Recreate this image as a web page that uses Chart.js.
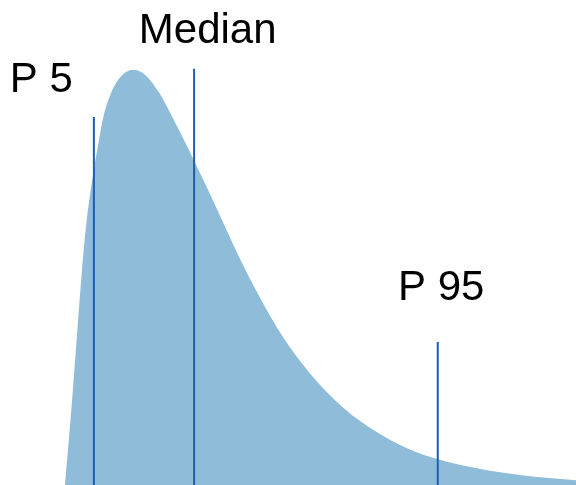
<!DOCTYPE html>
<html>

<head>
    <meta charset="utf-8">
    <title>Distribution</title>
    <script src="https://cdn.jsdelivr.net/npm/chart.js"></script>
</head>

<style>
    body {
        margin: 0;
        background-color: #ffffff;
    }

    .chart-container {
        position: relative;
        width: 576px;
        height: 485px;
    }
</style>

<body>
    <div class="chart-container">
        <canvas id="distChart"></canvas>
    </div>

    <script>
        // density curve (x along the axis, y = height)
        var curveX = [11.28, 12.45, 13.32, 14.18, 15.05, 16.20, 17.07, 17.93, 19.10, 20.83, 23.09, 25.17, 27.78, 29.51, 32.99, 36.46, 41.32, 45.14, 49.13, 53.82, 59.55, 65.97, 70.66, 76.04, 82.12, 88.02, 93.75, 100];
        var curveY = [0, 16.5, 30.2, 43.5, 54.6, 64.3, 70.3, 75.8, 80.3, 84.0, 85.6, 84.6, 80.6, 76.8, 68.6, 60.0, 47.5, 38.6, 30.5, 23.0, 16.0, 10.5, 7.6, 5.3, 3.6, 2.4, 1.6, 1.0];

        // percentile markers
        var markerNames = ['P 5', 'Median', 'P 95'];
        var markerX = [16.3, 33.7, 76.0];
        var markerTop = [75.9, 85.8, 29.5];

        // where each label sits (left edge, baseline)
        var labelX = [1.7, 24.1, 69.1];
        var labelY = [81.0, 91.1, 38.1];

        var fillColor = 'rgb(143, 188, 217)';
        var lineColor = '#1f5daf';

        var curvePoints = curveX.map(function (x, i) { return { x: x, y: curveY[i] }; });

        var datasets = [{
            data: curvePoints,
            backgroundColor: fillColor,
            borderWidth: 0,
            pointRadius: 0,
            fill: 'origin',
            cubicInterpolationMode: 'monotone',
            order: 2
        }];

        markerX.forEach(function (x, i) {
            datasets.push({
                data: [{ x: x, y: 0 }, { x: x, y: markerTop[i] }],
                borderColor: lineColor,
                borderWidth: 2,
                pointRadius: 0,
                fill: false,
                order: 1
            });
        });

        var labelPlugin = {
            id: 'markerLabels',
            afterDatasetsDraw: function (chart) {
                var ctx = chart.ctx;
                var xs = chart.scales.x;
                var ys = chart.scales.y;
                ctx.save();
                ctx.fillStyle = '#000000';
                ctx.font = '42px "Liberation Sans", Arial, sans-serif';
                ctx.textAlign = 'left';
                ctx.textBaseline = 'alphabetic';
                markerNames.forEach(function (name, i) {
                    ctx.fillText(name, xs.getPixelForValue(labelX[i]), ys.getPixelForValue(labelY[i]));
                });
                ctx.restore();
            }
        };

        var distChart = new Chart(document.getElementById('distChart').getContext('2d'), {
            type: 'line',
            data: { datasets: datasets },
            options: {
                responsive: true,
                maintainAspectRatio: false,
                animation: false,
                layout: { padding: 0 },
                plugins: {
                    legend: { display: false },
                    tooltip: { enabled: false }
                },
                scales: {
                    x: { type: 'linear', min: 0, max: 100, display: false },
                    y: { min: 0, max: 100, display: false }
                }
            },
            plugins: [labelPlugin]
        });
    </script>

</body>

</html>
